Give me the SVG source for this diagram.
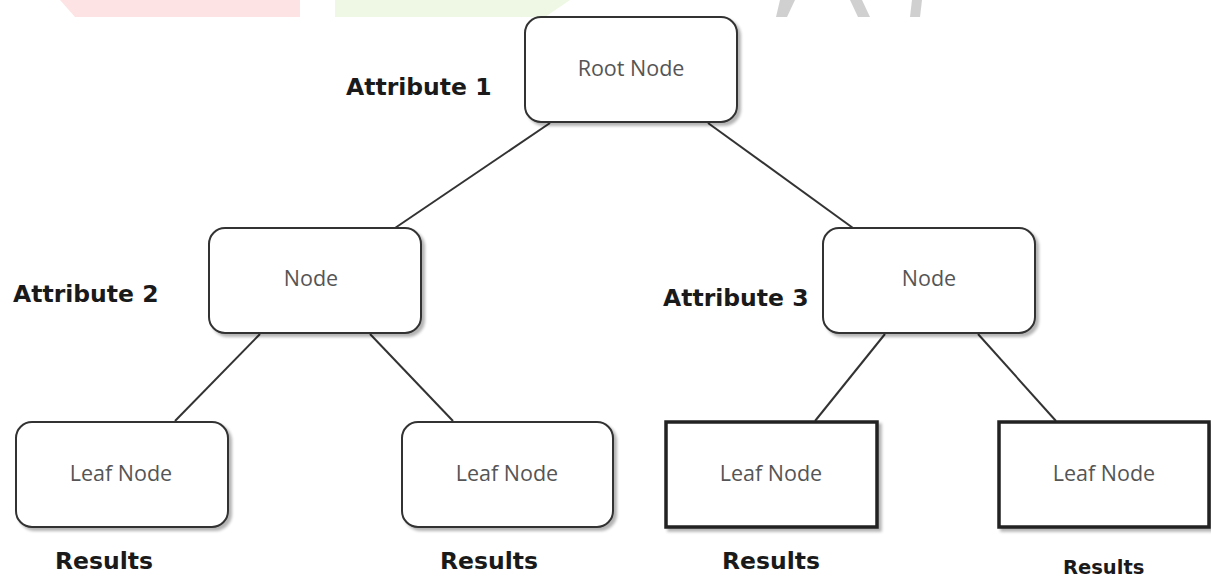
<svg xmlns="http://www.w3.org/2000/svg" width="1211" height="579" viewBox="0 0 1211 579">
<defs>
<filter id="sh" x="-10%" y="-10%" width="130%" height="130%">
<feGaussianBlur in="SourceAlpha" stdDeviation="1.5"/>
<feOffset dx="3" dy="3" result="b"/>
<feComponentTransfer><feFuncA type="linear" slope="0.3"/></feComponentTransfer>
<feMerge><feMergeNode/><feMergeNode in="SourceGraphic"/></feMerge>
</filter>
</defs>
<style>
.box{fill:#fff;stroke:#333;stroke-width:2;}
.thick{fill:#fff;stroke:#222;stroke-width:3.5;}
.t{font-family:"Open Sans","Noto Sans",sans-serif;font-size:21.5px;fill:#555;text-anchor:middle;}
.lbl{font-family:"DejaVu Sans",Verdana,sans-serif;font-weight:bold;font-size:23.5px;fill:#1a1a1a;}
.edge{stroke:#333;stroke-width:2;fill:none;}
</style>
<rect width="1211" height="579" fill="#fff"/>
<g id="watermark">
<polygon points="60,0 300,0 300,17 75,17" fill="#fde3e3"/>
<polygon points="335,0 570,0 545,17 335,17" fill="#eef8e4"/>
<polygon points="780,0 795,0 787,17 776,17" fill="#d0d0d0"/>
<polygon points="850,0 862,0 870,17 858,17" fill="#d0d0d0"/>
<polygon points="912,0 922,0 920,17 910,17" fill="#d0d0d0"/>
</g>
<g id="connectors">
<line class="edge" x1="550" y1="123" x2="395" y2="228"/>
<line class="edge" x1="708" y1="123" x2="853" y2="228"/>
<line class="edge" x1="260" y1="334" x2="175" y2="421"/>
<line class="edge" x1="370" y1="334" x2="453" y2="421"/>
<line class="edge" x1="885" y1="334" x2="815" y2="421"/>
<line class="edge" x1="978" y1="334" x2="1056" y2="421"/>
</g>
<g id="root">
<rect class="box" x="525" y="17" width="212" height="105" rx="16" filter="url(#sh)"/>
<text class="t" x="631" y="76">Root Node</text>
</g>
<g id="node-left">
<rect class="box" x="209" y="228" width="212" height="105" rx="16" filter="url(#sh)"/>
<text class="t" x="311" y="286">Node</text>
</g>
<g id="node-right">
<rect class="box" x="823" y="228" width="212" height="105" rx="16" filter="url(#sh)"/>
<text class="t" x="929" y="286">Node</text>
</g>
<g id="leaf1">
<rect class="box" x="16" y="422" width="212" height="105" rx="16" filter="url(#sh)"/>
<text class="t" x="121" y="481">Leaf Node</text>
</g>
<g id="leaf2">
<rect class="box" x="402" y="422" width="211" height="105" rx="16" filter="url(#sh)"/>
<text class="t" x="507" y="481">Leaf Node</text>
</g>
<g id="leaf3">
<rect class="thick" x="666" y="422" width="211" height="105" filter="url(#sh)"/>
<text class="t" x="771" y="481">Leaf Node</text>
</g>
<g id="leaf4">
<rect class="thick" x="999" y="422" width="210" height="105" filter="url(#sh)"/>
<text class="t" x="1104" y="481">Leaf Node</text>
</g>
<g id="labels">
<text class="lbl" x="346" y="95">Attribute 1</text>
<text class="lbl" x="13" y="302">Attribute 2</text>
<text class="lbl" x="663" y="306">Attribute 3</text>
<text class="lbl" x="55" y="569">Results</text>
<text class="lbl" x="440" y="569">Results</text>
<text class="lbl" x="722" y="569">Results</text>
<text class="lbl" x="1063" y="574" style="font-size:19.5px">Results</text>
</g>
</svg>
